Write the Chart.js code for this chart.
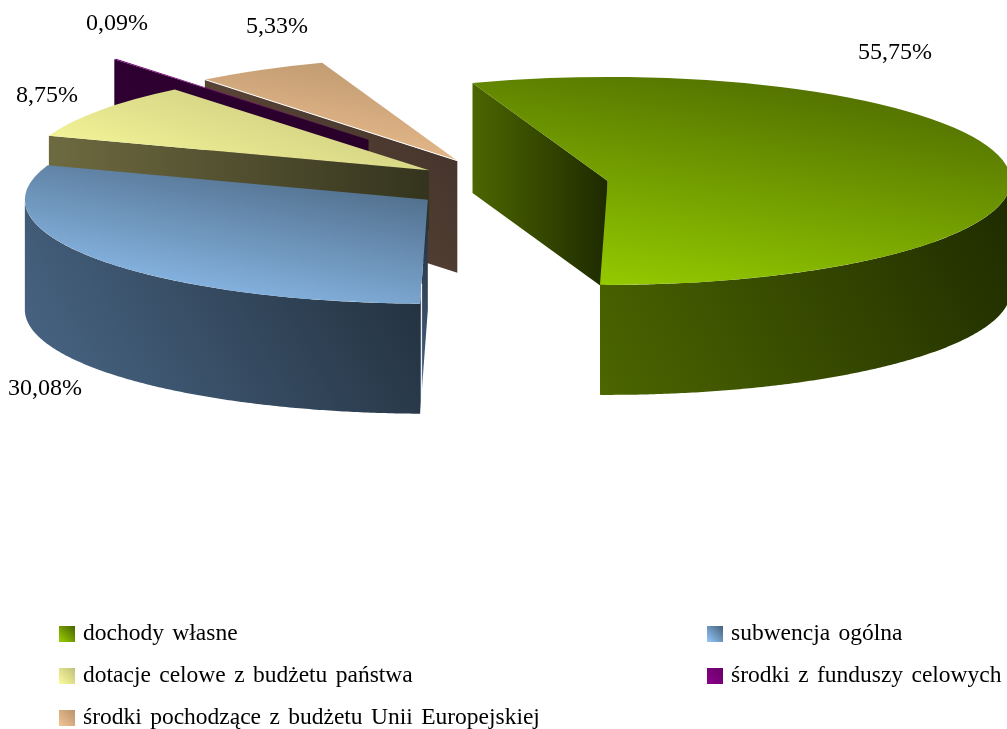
<!DOCTYPE html>
<html lang="pl">
<head>
<meta charset="utf-8">
<title>Dochody</title>
<script src="https://cdn.jsdelivr.net/npm/chart.js@4"></script>
<style>
html, body { margin: 0; padding: 0; background: #fff; overflow: hidden; }
canvas { display: block; }
</style>
</head>
<body>
<canvas id="pieChart" width="1007" height="729"></canvas>
<script>
var categories = ['dochody własne', 'subwencja ogólna', 'dotacje celowe z budżetu państwa', 'środki z funduszy celowych', 'środki pochodzące z budżetu Unii Europejskiej'];
var shares = [55.75, 30.08, 8.75, 0.09, 5.33];
var shareLabels = ['55,75%', '30,08%', '8,75%', '0,09%', '5,33%'];

// colours: top face light/dark, wall light/dark
var topLight = ['#9ad200', '#96cafc', '#fcfc9c', '#8a008a', '#f4c494'];
var topDark = ['#476200', '#46607a', '#c0c07a', '#6a006a', '#b8946c'];
var wallLight = ['#4c6600', '#4a6888', '#6e6a40', '#300034', '#66503c'];
var wallDark = ['#1e2a00', '#202c38', '#34341e', '#280028', '#40302a'];

// 3d look
var pieCenter = { x: 510, y: 185 };
var radiusX = 403, radiusY = 104;
var depths = [110, 110, 60, 60, 112];
var explode = [99, 100, 99, 225, 108];
var drawOrder = [4, 3, 0, 2, 1];

var shareLabelPos = [[858, 59], [8, 395], [16, 102], [86, 30], [246, 33]];
var legendPos = [[59, 626], [707, 626], [59, 668], [707, 668], [59, 710]];

function sliceGeo(el, i) {
    var mid = (el.startAngle + el.endAngle) / 2;
    return {
        x: pieCenter.x + explode[i] * Math.cos(mid),
        y: pieCenter.y + explode[i] * Math.sin(mid) * radiusY / radiusX
    };
}

function rimPoint(geo, a, down) {
    return { x: geo.x + radiusX * Math.cos(a), y: geo.y + radiusY * Math.sin(a) + (down || 0) };
}

function diagGradient(ctx, x0, y0, x1, y1, light, dark) {
    var g = ctx.createLinearGradient(x0, y1, x1, y0);
    g.addColorStop(0, light);
    g.addColorStop(1, dark);
    return g;
}

function fillPoly(ctx, pts, style, flat) {
    var xs = pts.map(function (p) { return p.x; });
    var ys = pts.map(function (p) { return p.y; });
    var y0 = Math.min.apply(null, ys), y1 = Math.max.apply(null, ys);
    // flat: left to right only
    if (flat) y0 = y1;
    ctx.fillStyle = diagGradient(ctx, Math.min.apply(null, xs), y0, Math.max.apply(null, xs), y1, style[0], style[1]);
    ctx.beginPath();
    pts.forEach(function (p, n) { n ? ctx.lineTo(p.x, p.y) : ctx.moveTo(p.x, p.y); });
    ctx.closePath();
    ctx.fill();
}

function drawCut(ctx, geo, a, style, d, flat) {
    var p = rimPoint(geo, a);
    fillPoly(ctx, [{ x: geo.x, y: geo.y }, p, { x: p.x, y: p.y + d }, { x: geo.x, y: geo.y + d }], style, flat);
}

function drawRim(ctx, geo, start, end, style, d) {
    var a;
    // only the part of the rim that faces the viewer
    var front = [];
    for (a = start; a <= end; a += Math.PI / 360) {
        if (Math.sin(a) > 0) front.push(a);
    }
    if (Math.sin(end) > 0) front.push(end);
    if (!front.length) return;
    var pts = front.map(function (t) { return rimPoint(geo, t); });
    front.slice().reverse().forEach(function (t) { pts.push(rimPoint(geo, t, d)); });
    fillPoly(ctx, pts, style);
}

function whiteLine(ctx, p0, p1) {
    ctx.strokeStyle = '#fff';
    ctx.lineWidth = 1;
    ctx.beginPath();
    ctx.moveTo(p0.x, p0.y);
    ctx.lineTo(p1.x, p1.y);
    ctx.stroke();
}

var pie3d = {
    id: 'pie3d',
    beforeDatasetsDraw: function (chart) {
        var ctx = chart.ctx;
        var arcs = chart.getDatasetMeta(0).data;
        drawOrder.forEach(function (i) {
            var el = arcs[i];
            var geo = sliceGeo(el, i);
            var wall = [wallLight[i], wallDark[i]];
            if (Math.cos(el.startAngle) < 0) drawCut(ctx, geo, el.startAngle, wall, depths[i], i === 0 || i === 2);
            if (Math.cos(el.endAngle) > 0) drawCut(ctx, geo, el.endAngle, wall, depths[i], false);
            drawRim(ctx, geo, el.startAngle, el.endAngle, wall, depths[i]);

            // top face: the library's arc under a squashing transform
            var R = el.outerRadius;
            var xs = [0, Math.cos(el.startAngle) * R, Math.cos(el.endAngle) * R];
            var ys = [0, Math.sin(el.startAngle) * R, Math.sin(el.endAngle) * R];
            for (var k = -4; k <= 4; k++) {
                var t = k * Math.PI / 2;
                if (t > el.startAngle && t < el.endAngle) {
                    xs.push(Math.cos(t) * R);
                    ys.push(Math.sin(t) * R);
                }
            }
            ctx.save();
            ctx.translate(geo.x, geo.y);
            ctx.scale(radiusX / R, radiusY / R);
            ctx.translate(-el.x, -el.y);
            var grad = diagGradient(ctx, el.x + Math.min.apply(null, xs), el.y + Math.min.apply(null, ys), el.x + Math.max.apply(null, xs), el.y + Math.max.apply(null, ys), topLight[i], topDark[i]);
            el.options = Object.assign({}, el.options, { backgroundColor: grad });
            el.draw(ctx);
            ctx.restore();

            // thin light seams seen on the blue and tan slices
            var p = rimPoint(geo, el.startAngle);
            if (i === 1) whiteLine(ctx, { x: p.x + 1.5, y: p.y - 20 }, { x: p.x + 1.5, y: p.y + depths[i] });
            if (i === 4) whiteLine(ctx, p, geo);
        });
        return false;
    },
    afterDraw: function (chart) {
        var ctx = chart.ctx;
        ctx.save();
        ctx.fillStyle = '#000';
        ctx.textBaseline = 'alphabetic';
        ctx.font = '24px "Liberation Serif"';
        shareLabels.forEach(function (s, i) {
            ctx.fillText(s, shareLabelPos[i][0], shareLabelPos[i][1]);
        });
        ctx.font = '23.5px "Liberation Serif"';
        ctx.wordSpacing = '2.5px';
        categories.forEach(function (c, i) {
            var p = legendPos[i];
            ctx.fillStyle = diagGradient(ctx, p[0], p[1], p[0] + 16, p[1] + 16, topLight[i], topDark[i]);
            ctx.fillRect(p[0], p[1], 16, 16);
            ctx.fillStyle = '#000';
            ctx.fillText(c, p[0] + 24, p[1] + 14);
        });
        ctx.restore();
    }
};

var chart = new Chart(document.getElementById('pieChart').getContext('2d'), {
    type: 'pie',
    data: {
        labels: categories,
        datasets: [{
            data: shares,
            backgroundColor: topLight,
            borderWidth: 0
        }]
    },
    options: {
        responsive: false,
        animation: false,
        rotation: -19.6,
        radius: 200,
        plugins: { legend: { display: false }, tooltip: { enabled: false } }
    },
    plugins: [pie3d]
});
</script>
</body>
</html>
